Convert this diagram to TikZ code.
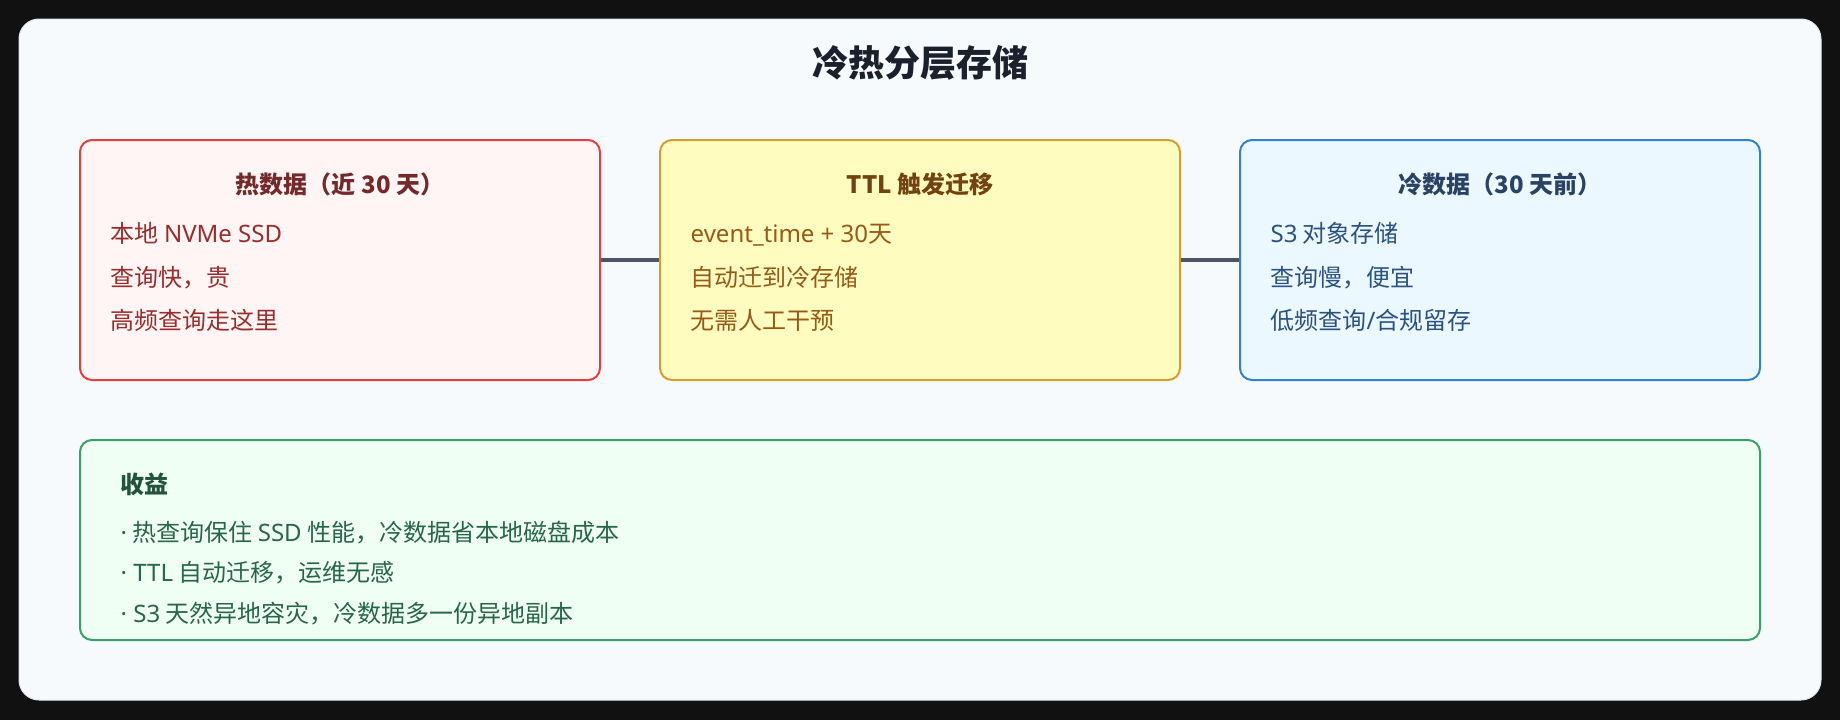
\documentclass[tikz,border=0pt]{standalone}
\usepackage{fontspec}
\setmainfont{Noto Sans CJK SC}
\newfontfamily\lat{Noto Sans}
\newcommand\La[1]{{\lat #1}}
\definecolor{outerbg}{HTML}{111111}
\definecolor{cardbg}{HTML}{F7FAFC}
\definecolor{cardedge}{HTML}{E2E8F0}
\definecolor{titlec}{HTML}{1A202C}
\definecolor{hotfill}{HTML}{FFF5F5}
\definecolor{hotedge}{HTML}{E53E3E}
\definecolor{hottitle}{HTML}{742A2A}
\definecolor{hottext}{HTML}{9B2C2C}
\definecolor{ttlfill}{HTML}{FEFCBF}
\definecolor{ttledge}{HTML}{D69E2E}
\definecolor{ttltitle}{HTML}{744210}
\definecolor{ttltext}{HTML}{975A16}
\definecolor{coldfill}{HTML}{EBF8FF}
\definecolor{coldedge}{HTML}{3182CE}
\definecolor{coldtitle}{HTML}{2A4365}
\definecolor{coldtext}{HTML}{2C5282}
\definecolor{benfill}{HTML}{F0FFF4}
\definecolor{benedge}{HTML}{38A169}
\definecolor{bentitle}{HTML}{22543D}
\definecolor{bentext}{HTML}{276749}
\definecolor{connc}{HTML}{4A5568}
\tikzset{
  box/.style={draw, line width=2pt, rounded corners=12pt, inner sep=0pt},
  tierbox/.style={box, minimum width=520pt, minimum height=240pt},
  boxtitle/.style={anchor=base, inner sep=0pt, font=\fontsize{24}{28}\selectfont\bfseries},
  bodyline/.style={anchor=base west, inner sep=0pt, font=\fontsize{24}{28}\selectfont},
  conn/.style={draw=connc, line width=3.5pt},
}
\begin{document}
\begin{tikzpicture}[x=1pt, y=-1pt]
\useasboundingbox (0,0) rectangle (1840,720);
\fill[outerbg] (0,0) rectangle (1840,720);
\draw[fill=cardbg, draw=cardedge, line width=1pt, rounded corners=20pt] (19,19) rectangle (1821,700);

\node[anchor=base, inner sep=0pt, text=titlec, font=\fontsize{36}{40}\selectfont\bfseries] (title) at (920,76.5) {冷热分层存储};

% tiers
\node[tierbox, fill=hotfill, draw=hotedge] (hot) at (340,260) {};
\node[tierbox, fill=ttlfill, draw=ttledge] (ttl) at (920,260) {};
\node[tierbox, fill=coldfill, draw=coldedge] (cold) at (1500,260) {};

\draw[conn] (hot.east) -- (ttl.west);
\draw[conn] (ttl.east) -- (cold.west);

% hot
\node[boxtitle, text=hottitle] (hott) at (340,193) {热数据（近 30 天）};
\node[bodyline, text=hottext] (hot1) at (110.5,242) {本地 \La{NVMe SSD}};
\node[bodyline, text=hottext] (hot2) at (110.5,286) {查询快，贵};
\node[bodyline, text=hottext] (hot3) at (110.5,329.5) {高频查询走这里};

% ttl
\node[boxtitle, text=ttltitle] (ttlt) at (920,193) {TTL 触发迁移};
\node[bodyline, text=ttltext] (ttl1) at (690.5,242) {\La{event\_time + 30}天};
\node[bodyline, text=ttltext] (ttl2) at (690.5,286) {自动迁到冷存储};
\node[bodyline, text=ttltext] (ttl3) at (690.5,329.5) {无需人工干预};

% cold
\node[boxtitle, text=coldtitle] (coldt) at (1500,193) {冷数据（30 天前）};
\node[bodyline, text=coldtext] (cold1) at (1270.5,242) {\La{S3} 对象存储};
\node[bodyline, text=coldtext] (cold2) at (1270.5,286) {查询慢，便宜};
\node[bodyline, text=coldtext] (cold3) at (1270.5,329.5) {低频查询\La{/}合规留存};

% benefits
\node[box, fill=benfill, draw=benedge, minimum width=1680pt, minimum height=200pt] (ben) at (920,540) {};
\node[anchor=base west, inner sep=0pt, text=bentitle, font=\fontsize{24}{28}\selectfont\bfseries] (bent) at (120.5,493) {收益};
\node[bodyline, text=bentext] (ben1) at (120.5,541) {\La{·} 热查询保住 \La{SSD} 性能，冷数据省本地磁盘成本};
\node[bodyline, text=bentext] (ben2) at (120.5,581.5) {\La{· TTL} 自动迁移，运维无感};
\node[bodyline, text=bentext] (ben3) at (120.5,622) {\La{· S3} 天然异地容灾，冷数据多一份异地副本};
\end{tikzpicture}
\end{document}
